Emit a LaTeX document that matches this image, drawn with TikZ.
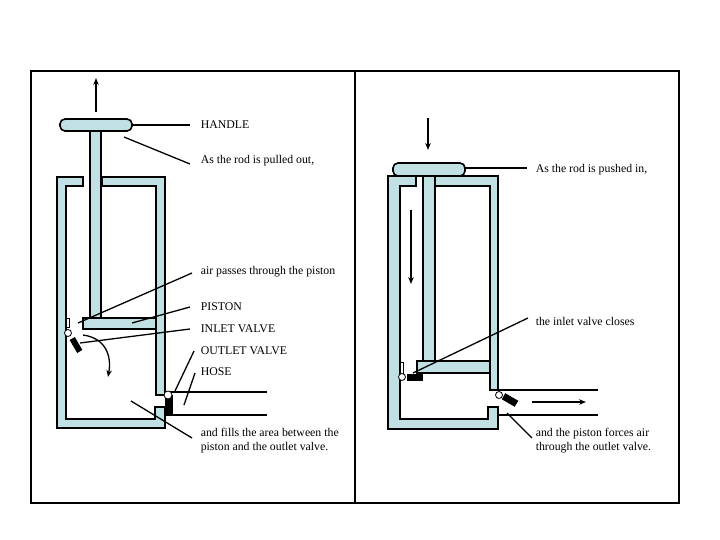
\documentclass[tikz,border=0pt]{standalone}
\usepackage{fontspec}
\setmainfont{Liberation Serif}
\usetikzlibrary{arrows.meta}
\definecolor{pump}{RGB}{192,224,228}
\begin{document}
\begin{tikzpicture}[x=1pt,y=-1pt,line width=1.6pt,
  wall/.style={fill=pump,draw=black,line join=miter},
  lead/.style={line width=1.3pt},
  lbl/.style={anchor=west,inner sep=0pt,font=\fontsize{11.8}{14}\selectfont},
  arr/.style={line width=1.3pt,-{Stealth[length=7pt,width=5.5pt]}}]
\useasboundingbox (0,0) rectangle (720,540);
\draw[line width=1.4pt] (31,71) rectangle (679,503);
\draw[line width=1.4pt] (355,71) -- (355,503);
% ---------- left pump ----------
\draw[wall] (83,177) -- (57,177) -- (57,428) -- (165,428) -- (165,407) -- (155,407) -- (155,419) -- (66,419) -- (66,186) -- (83,186) -- cycle;
\draw[wall] (102,177) -- (165,177) -- (165,395) -- (156,395) -- (156,186) -- (102,186) -- cycle;
\draw[wall] (90,131) rectangle (101,318);
\draw[wall] (83,318) rectangle (156,329);
\draw[wall,rounded corners=5pt] (60,119) rectangle (132,131);
\node[draw,fill=white,line width=1pt,minimum width=3pt,minimum height=9pt,inner sep=0pt] (lvs) at (68,323) {};
\node[circle,fill=white,draw,line width=0.8pt,minimum size=7pt,inner sep=0pt] (lvc) at (68,333) {};
\node[fill=black,minimum width=6pt,minimum height=15pt,inner sep=0pt,rotate=30] (lvr) at (76,345) {};
\draw[arr] (83,335) .. controls (105,338) and (112,355) .. (108,377);
\draw (165,392) -- (267,392);
\draw (165,415) -- (267,415);
\node[fill=black,minimum width=8pt,minimum height=20pt,inner sep=0pt] (lor) at (169,405) {};
\node[circle,fill=white,draw,line width=0.8pt,minimum size=8pt,inner sep=0pt] (loc) at (168,395) {};
\draw[arr] (96,112) -- (96,78);
\coordinate (lh) at (132,125);
\node[lbl] (t1) at (200,125) {HANDLE};
\node[lbl] (t2) at (200,161) {As the rod is pulled out,};
\node[lbl] (t3) at (200,272) {air passes through the piston};
\node[lbl] (t4) at (200,307) {PISTON};
\node[lbl] (t5) at (200,329) {INLET VALVE};
\node[lbl] (t6) at (200,351) {OUTLET VALVE};
\node[lbl] (t7) at (200,372) {HOSE};
\node[lbl,align=left,anchor=north west] (t8) at (200,427) {and fills the area between the\\piston and the outlet valve.};
\coordinate (p2) at (124,137);
\coordinate (p3) at (78,323);
\coordinate (p4) at (132,323);
\coordinate (p5) at (80,343);
\coordinate (p6) at (175,391);
\coordinate (p7) at (184,405);
\coordinate (p8) at (131,401);
\draw[lead] (lh) -- (190,125);
\draw[lead] (p2) -- (190,164);
\draw[lead] (p3) -- (192,273);
\draw[lead] (p4) -- (190,307);
\draw[lead] (p5) -- (190,329);
\draw[lead] (p6) -- (194,351);
\draw[lead] (p7) -- (195,373);
\draw[lead] (p8) -- (192,438);
% ---------- right pump ----------
\draw[wall] (416,176) -- (388,176) -- (388,429) -- (498,429) -- (498,407) -- (488,407) -- (488,419) -- (400,419) -- (400,186) -- (416,186) -- cycle;
\draw[wall] (435,176) -- (498,176) -- (498,390) -- (490,390) -- (490,186) -- (435,186) -- cycle;
\draw[wall] (423,176) rectangle (435,361);
\draw[wall] (417,361) rectangle (490,373);
\draw[wall,rounded corners=5pt] (393,163) rectangle (465,176);
\node[draw,fill=white,line width=1pt,minimum width=3pt,minimum height=12pt,inner sep=0pt] (rvs) at (402,368) {};
\node[fill=black,minimum width=16pt,minimum height=7pt,inner sep=0pt] (rvr) at (415,377) {};
\node[circle,fill=white,draw,line width=0.8pt,minimum size=7pt,inner sep=0pt] (rvc) at (402,377) {};
\draw (498,390) -- (598,390);
\draw (498,415) -- (598,415);
\node[fill=black,minimum width=15pt,minimum height=7pt,inner sep=0pt,rotate=-30] (ror) at (510,400) {};
\node[circle,fill=white,draw,line width=0.8pt,minimum size=7pt,inner sep=0pt] (roc) at (499,395) {};
\draw[arr] (532,402) -- (586,402);
\draw[arr] (411,210) -- (411,284);
\draw[arr] (428,118) -- (428,150);
\coordinate (rh) at (465,168);
\node[lbl] (s1) at (535,170) {As the rod is pushed in,};
\node[lbl] (s2) at (535,321) {the inlet valve closes};
\node[lbl,align=left,anchor=north west] (s3) at (535,427) {and the piston forces air\\through the outlet valve.};
\coordinate (q2) at (413,373);
\coordinate (q3) at (507,413);
\draw[lead] (rh) -- (527,168);
\draw[lead] (q2) -- (528,318);
\draw[lead] (q3) -- (532,438);
\end{tikzpicture}
\end{document}
